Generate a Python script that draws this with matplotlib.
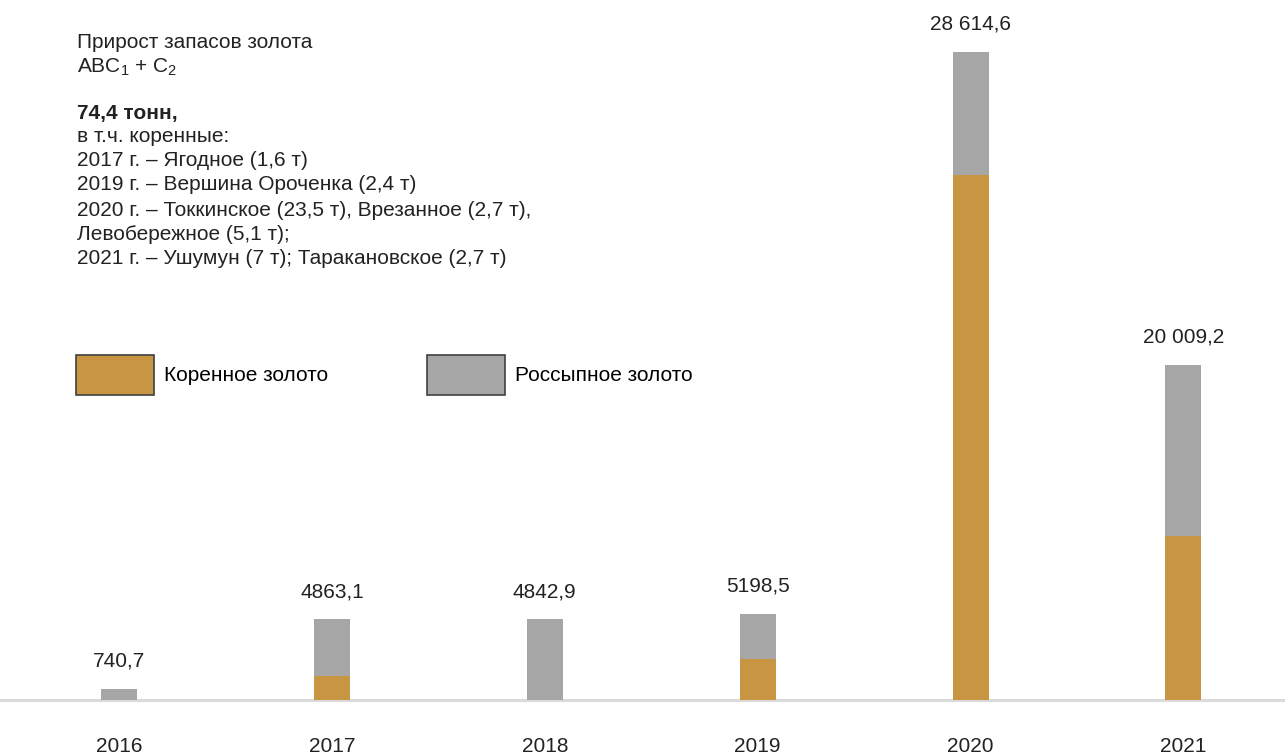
import numpy as np
import matplotlib.pyplot as plt

plt.rcParams['font.family'] = ['Liberation Sans', 'DejaVu Sans']
plt.rcParams['mathtext.default'] = 'regular'

years = ['2016', '2017', '2018', '2019', '2020', '2021']
# bar heights as drawn in the picture (the source chart is not to scale)
korennoe = [0, 1073, 0, 1797, 23173, 7239]
rossypnoe = [485, 2490, 3562, 2013, 5442, 7548]
totals = ['740,7', '4863,1', '4842,9', '5198,5', '28 614,6', '20 009,2']

c_kor = '#C89543'
c_ros = '#A6A6A6'

W, H = 1285, 755
fig = plt.figure(figsize=(W/100, H/100), dpi=100)
ax = fig.add_axes([0, 0, 1, 1])
ax.set_axis_off()

k = 44.14  # units per pixel
ax.set_xlim(-0.559, 5.477)
ax.set_ylim(-55*k, 700*k)

x = np.arange(len(years))
w = 0.169
b1 = ax.bar(x, korennoe, w, color=c_kor, label='Коренное золото', zorder=3)
b2 = ax.bar(x, rossypnoe, w, bottom=korennoe, color=c_ros, label='Россыпное золото', zorder=3)
ax.axhline(0, color='#DADADA', lw=2.2, zorder=2)

tops = np.array(korennoe) + np.array(rossypnoe)
for xi, t, lab in zip(x, tops, totals):
    ax.annotate(lab, (xi, t), xytext=(0, 13), textcoords='offset points',
                ha='center', va='bottom', fontsize=15, color='#222222')
for xi, yr in zip(x, years):
    ax.text(xi, -46*k, yr, ha='center', va='center', fontsize=15, color='#222222')

# text block top-left
lines = [
    ('Прирост запасов золота', 43, 'normal'),
    ('ABC$_1$ + C$_2$', 67, 'normal'),
    ('74,4 тонн,', 113, 'bold'),
    ('в т.ч. коренные:', 137, 'normal'),
    ('2017 г. – Ягодное (1,6 т)', 161, 'normal'),
    ('2019 г. – Вершина Ороченка (2,4 т)', 185, 'normal'),
    ('2020 г. – Токкинское (23,5 т), Врезанное (2,7 т),', 210, 'normal'),
    ('Левобережное (5,1 т);', 234, 'normal'),
    ('2021 г. – Ушумун (7 т); Таракановское (2,7 т)', 258, 'normal'),
]
for s, yp, fw in lines:
    fig.text(77/W, 1 - yp/H, s, ha='left', va='center', fontsize=15,
             fontweight=fw, color='#222222')

fs = 15*100/72
leg = ax.legend(loc='upper left', bbox_to_anchor=(76/W, 1 - 355/H), bbox_transform=fig.transFigure,
                ncol=2, frameon=False, fontsize=15, borderpad=0, borderaxespad=0,
                handlelength=78/fs, handleheight=(40/fs - 0.245)/0.65, handletextpad=0.5,
                columnspacing=98/fs)
for h in leg.legend_handles:
    h.set_edgecolor('#404040')
    h.set_linewidth(1.2)

fig.savefig('out.png', dpi=100)
